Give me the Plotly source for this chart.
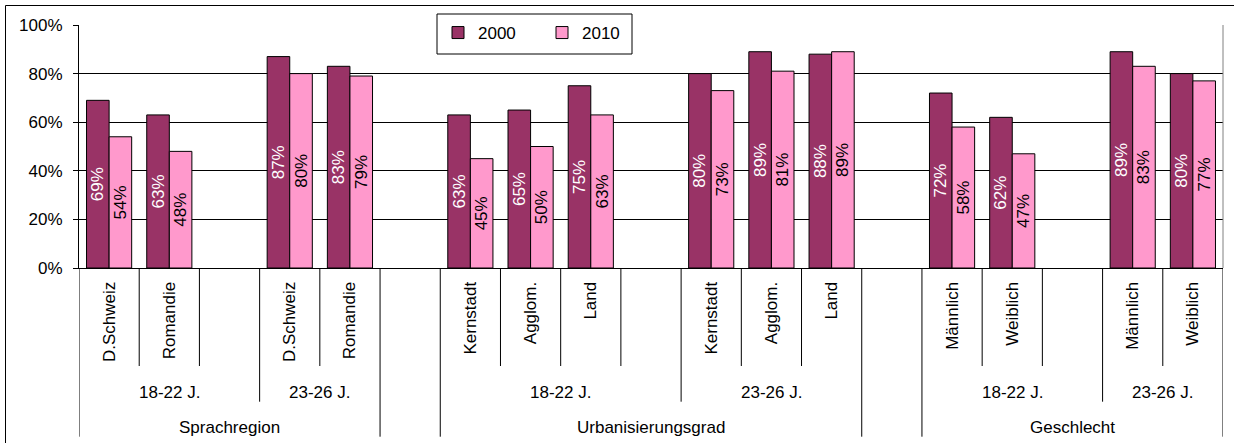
import plotly.graph_objects as go

# Category hierarchy, one entry per slot on the x axis ("" = empty spacer slot)
level1 = ["D.Schweiz", "Romandie", "", "D.Schweiz", "Romandie", "",
          "Kernstadt", "Agglom.", "Land", "", "Kernstadt", "Agglom.", "Land", "",
          "Männlich", "Weiblich", "", "Männlich", "Weiblich"]
level2 = ["18-22 J."] * 3 + ["23-26 J."] * 2 + [""] + \
         ["18-22 J."] * 4 + ["23-26 J."] * 3 + [""] + \
         ["18-22 J."] * 3 + ["23-26 J."] * 2
level3 = ["Sprachregion"] * 5 + [""] + ["Urbanisierungsgrad"] * 7 + [""] + ["Geschlecht"] * 5

years = ["2000", "2010"]
values_2000 = [69, 63, None, 87, 83, None, 63, 65, 75, None, 80, 89, 88, None, 72, 62, None, 89, 80]
values_2010 = [54, 48, None, 80, 79, None, 45, 50, 63, None, 73, 81, 89, None, 58, 47, None, 83, 77]

# Layout geometry (pixels)
W, H = 1234, 443
L, R, T, B = 79, 1223, 25, 268
PH = B - T
FONT = "Liberation Sans, Arial, sans-serif"
FS = 17


def py(y_px):
    """Pixel row -> paper y."""
    return (B - y_px) / PH


def px(x_px):
    """Pixel column -> paper x."""
    return (x_px - L) / (R - L)


slots = list(range(len(level1)))

fig = go.Figure()
for name, vals, fill, txt in [(years[0], values_2000, "#993366", "white"),
                              (years[1], values_2010, "#FF99CC", "black")]:
    fig.add_trace(go.Bar(
        x=slots,
        y=[None if v is None else v / 100 for v in vals],
        name=name,
        marker=dict(color=fill, line=dict(color="#000000", width=1)),
        texttemplate="%{y:.0%}",
        textposition="inside",
        insidetextanchor="middle",
        textangle=-90,
        constraintext="none",
        textfont=dict(family=FONT, size=FS, color=txt),
        hoverinfo="skip",
    ))

shapes = []
annotations = []

# Divider lines below the axis: depth depends on which hierarchy level changes
n = len(slots)
for k in range(n + 1):
    if k == 0 or k == n or level3[k - 1] != level3[k]:
        y_end = 436.7
    elif level2[k - 1] != level2[k]:
        y_end = 401.7
    else:
        y_end = 366
    shapes.append(dict(type="line", xref="x", yref="paper",
                       x0=k - 0.5, x1=k - 0.5, y0=0, y1=py(y_end),
                       line=dict(color="#000000", width=1)))


def runs(labels):
    out = []
    start = 0
    for i in range(1, len(labels) + 1):
        if i == len(labels) or labels[i] != labels[start]:
            if labels[start]:
                out.append((labels[start], (start + i - 1) / 2))
            start = i
    return out


for text, xc in runs(level2):
    annotations.append(dict(text=text, x=xc, xref="x", y=py(392), yref="paper",
                            showarrow=False, xanchor="center", yanchor="middle",
                            font=dict(family=FONT, size=FS, color="#000000")))
for text, xc in runs(level3):
    annotations.append(dict(text=text, x=xc, xref="x", y=py(427), yref="paper",
                            showarrow=False, xanchor="center", yanchor="middle",
                            font=dict(family=FONT, size=FS, color="#000000")))

# Right edge of the plot area
shapes.append(dict(type="line", xref="paper", yref="paper", x0=1, x1=1, y0=0, y1=1,
                   line=dict(color="#808080", width=1)))
# Chart frame (left and top edges)
shapes.append(dict(type="line", xref="paper", yref="paper",
                   x0=px(5.5), x1=px(5.5), y0=py(5.5), y1=py(H + 5),
                   line=dict(color="#000000", width=1)))
shapes.append(dict(type="line", xref="paper", yref="paper",
                   x0=px(5.5), x1=px(W + 5), y0=py(5.5), y1=py(5.5),
                   line=dict(color="#000000", width=1)))
# Legend box
shapes.append(dict(type="rect", xref="paper", yref="paper", layer="above",
                   x0=px(437), x1=px(632), y0=py(54), y1=py(14),
                   fillcolor="white", line=dict(color="#000000", width=1)))

fig.update_layout(
    width=W, height=H,
    margin=dict(l=L, r=W - R, t=T, b=H - B, pad=0),
    paper_bgcolor="white", plot_bgcolor="white",
    barmode="group", bargap=0.25, bargroupgap=0,
    font=dict(family=FONT, size=FS, color="#000000"),
    showlegend=True,
    legend=dict(orientation="h", x=px(438), y=py(15), xanchor="left", yanchor="top",
                bgcolor="rgba(0,0,0,0)", borderwidth=0,
                font=dict(family=FONT, size=FS, color="#000000"),
                entrywidth=59, entrywidthmode="pixels"),
    shapes=shapes,
    annotations=annotations,
    xaxis=dict(range=[-0.5, n - 0.5], tickmode="array", tickvals=slots, ticktext=level1,
               tickangle=-90, ticks="outside", ticklen=6, tickcolor="rgba(0,0,0,0)",
               showline=True, linecolor="#000000", linewidth=1, showgrid=False,
               zeroline=False, tickfont=dict(family=FONT, size=FS, color="#000000"),
               fixedrange=True),
    yaxis=dict(range=[0, 1], tickmode="linear", tick0=0, dtick=0.2, tickformat=".0%",
               ticks="outside", ticklen=5, tickcolor="#000000", ticklabelstandoff=7,
               showline=True, linecolor="#000000", linewidth=1,
               showgrid=True, gridcolor="#000000", gridwidth=1, zeroline=False,
               tickfont=dict(family=FONT, size=FS, color="#000000"), fixedrange=True),
)

fig.write_html("out.html")
